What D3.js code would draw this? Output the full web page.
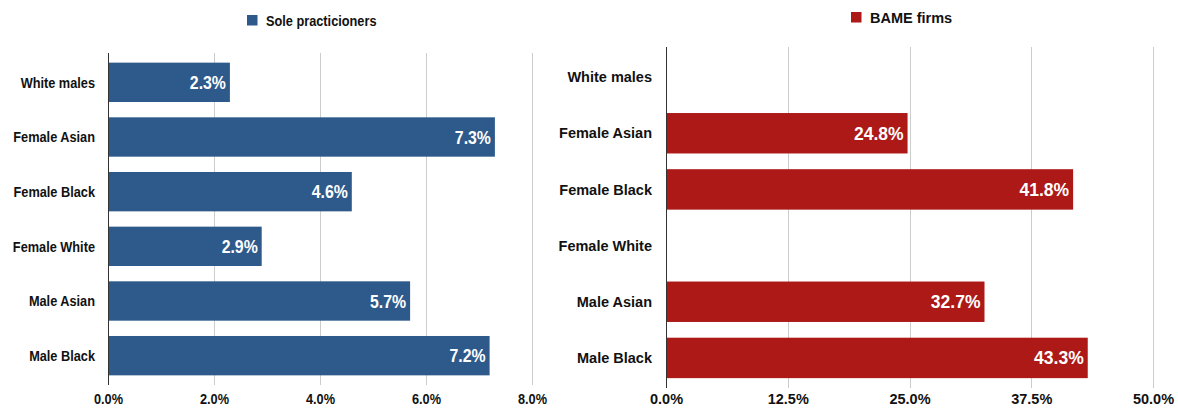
<!DOCTYPE html>
<html>
<head>
<meta charset="utf-8">
<script src="https://cdn.jsdelivr.net/npm/d3@7"></script>
<style>
  body { margin: 0; background: #ffffff; }
  .axis path, .axis line { display: none; }
</style>
</head>
<body>
<div id="svg-container"></div>
<script>
// data
var categories     = ["White males", "Female Asian", "Female Black", "Female White", "Male Asian", "Male Black"];
var soleValues     = [0.023, 0.073, 0.046, 0.029, 0.057, 0.072];
var bameValues     = [null, 0.248, 0.418, null, 0.327, 0.433];
var soleTicks      = [0, 0.02, 0.04, 0.06, 0.08];
var bameTicks      = [0, 0.125, 0.25, 0.375, 0.5];
var soleLegend     = "Sole practicioners";
var bameLegend     = "BAME firms";

// sizes
var svgWidth  = 1178;
var svgHeight = 412;
var squeeze   = 0.88;   // left panel text is rendered condensed

var blue = "#2e5a8b";
var red  = "#ad1917";

var svg = d3.select("#svg-container")
            .append("svg")
            .attr("width", svgWidth)
            .attr("height", svgHeight);

svg.append("rect")
    .attr("width", svgWidth)
    .attr("height", svgHeight)
    .attr("fill", "#ffffff");

// draws one panel; opts holds layout for that panel
function drawPanel(values, ticks, legend, color, opts) {
  var xScale = d3.scaleLinear()
                  .domain([0, ticks[ticks.length - 1]])
                  .range([opts.x0, opts.x1]);

  var yScale = d3.scaleBand()
                  .domain(categories)
                  .range([opts.y0, opts.y1])
                  .paddingInner(0.28)
                  .paddingOuter(0.14);

  var sx = opts.sx;
  var g = svg.append("g");

  // gridlines
  g.selectAll("line.grid")
    .data(ticks.slice(1))
    .enter()
      .append("line")
      .attr("class", "grid")
      .attr("x1", function(d) { return Math.round(xScale(d)) + 0.5; })
      .attr("x2", function(d) { return Math.round(xScale(d)) + 0.5; })
      .attr("y1", opts.y0 - 2)
      .attr("y2", opts.y1 + 2)
      .attr("stroke", "#cccccc")
      .attr("stroke-width", 1);

  // bars
  var rows = categories.map(function(c, i) { return { cat: c, v: values[i] }; })
                       .filter(function(d) { return d.v !== null; });

  g.selectAll("rect.bar")
    .data(rows)
    .enter()
      .append("rect")
      .attr("class", "bar")
      .attr("x", xScale(0))
      .attr("y", function(d) { return yScale(d.cat); })
      .attr("width", function(d) { return xScale(d.v) - xScale(0); })
      .attr("height", yScale.bandwidth())
      .attr("fill", color);

  // value labels inside the bar ends
  g.selectAll("g.val")
    .data(rows)
    .enter()
      .append("g")
      .attr("class", "val")
      .attr("transform", function(d) {
        return "translate(" + (xScale(d.v) - 4) + "," + (yScale(d.cat) + yScale.bandwidth() / 2 + 6.5) + ")";
      })
      .append("text")
      .attr("transform", "scale(" + sx + ",1)")
      .attr("text-anchor", "end")
      .attr("font-family", "Liberation Sans, Arial, sans-serif")
      .attr("font-weight", "bold")
      .attr("font-size", opts.valSize)
      .attr("fill", "#ffffff")
      .text(function(d) { return d3.format(".1%")(d.v); });

  // zero axis line
  g.append("line")
    .attr("x1", Math.round(xScale(0)) + 0.5)
    .attr("x2", Math.round(xScale(0)) + 0.5)
    .attr("y1", opts.y0 - 2)
    .attr("y2", opts.y1 + 2)
    .attr("stroke", "#333333")
    .attr("stroke-width", 1);

  // category axis
  var yAxis = d3.axisLeft(yScale).tickSize(0).tickPadding(opts.labelGap);
  var yAxisGroup = svg.append("g")
                      .attr("class", "axis")
                      .attr("transform", "translate(" + xScale(0) + ",0)")
                      .call(yAxis);
  yAxisGroup.selectAll("text")
    .attr("transform", "scale(" + sx + ",1)")
    .attr("x", -opts.labelGap / sx)
    .attr("dy", "0.36em")
    .attr("font-family", "Liberation Sans, Arial, sans-serif")
    .attr("font-weight", "bold")
    .attr("font-size", 14.5)
    .attr("fill", "#111111");

  // value axis
  var xAxis = d3.axisBottom(xScale)
                .tickValues(ticks)
                .tickSize(0)
                .tickFormat(d3.format(".1%"));
  var xAxisGroup = svg.append("g")
                      .attr("class", "axis")
                      .attr("transform", "translate(0," + opts.tickY + ")")
                      .call(xAxis);
  xAxisGroup.selectAll("text")
    .attr("transform", "scale(" + sx + ",1)")
    .attr("y", 0)
    .attr("dy", 0)
    .attr("font-family", "Liberation Sans, Arial, sans-serif")
    .attr("font-weight", "bold")
    .attr("font-size", 14.5)
    .attr("fill", "#111111");

  // legend
  svg.append("rect")
    .attr("x", opts.legX)
    .attr("y", opts.legY - 11)
    .attr("width", 10.5)
    .attr("height", 10.5)
    .attr("fill", color);

  svg.append("g")
    .attr("transform", "translate(" + (opts.legX + 19) + "," + opts.legY + ")")
    .append("text")
      .attr("transform", "scale(" + sx + ",1)")
      .attr("font-family", "Liberation Sans, Arial, sans-serif")
      .attr("font-weight", "bold")
      .attr("font-size", 14.5)
      .attr("fill", "#111111")
      .text(legend);
}

drawPanel(soleValues, soleTicks, soleLegend, blue,
  { x0: 108, x1: 532, y0: 55, y1: 383, sx: squeeze, valSize: 18, labelGap: 13, tickY: 404, legX: 247, legY: 26 });

drawPanel(bameValues, bameTicks, bameLegend, red,
  { x0: 666, x1: 1153, y0: 49, y1: 386, sx: 1, valSize: 17.5, labelGap: 14, tickY: 404, legX: 851, legY: 23 });
</script>
</body>
</html>
